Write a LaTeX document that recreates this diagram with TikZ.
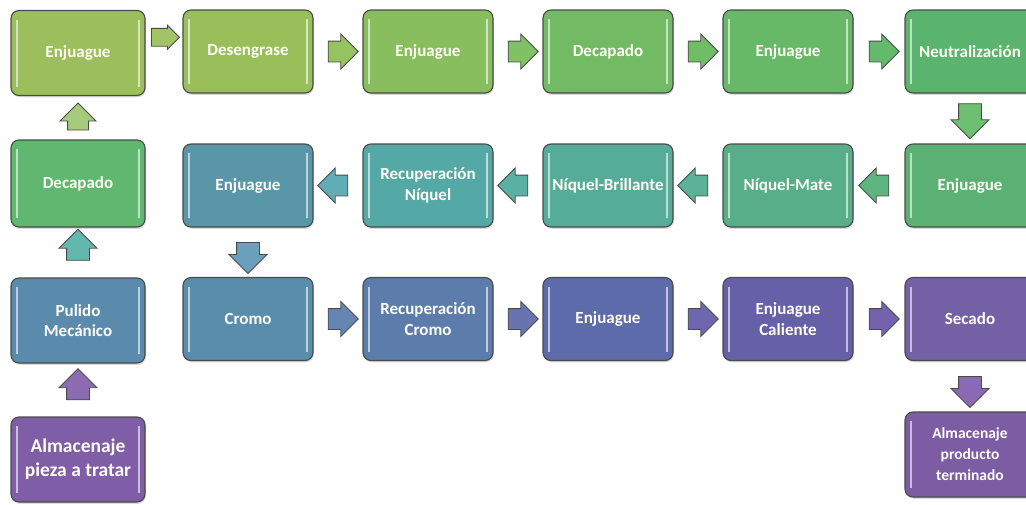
\documentclass[tikz,border=0pt]{standalone}
\usepackage{fontspec}
\setmainfont{Carlito}
\usetikzlibrary{shapes.arrows,calc,shadows}

\definecolor{borde}{HTML}{4A4A4A}
% cajas
\definecolor{cEnjA}{HTML}{9DBE5C}
\definecolor{cDeseng}{HTML}{98BF5A}
\definecolor{cEnjB}{HTML}{88BE5D}
\definecolor{cDecapB}{HTML}{72BA64}
\definecolor{cEnjC}{HTML}{67B968}
\definecolor{cNeutra}{HTML}{5BB46E}
\definecolor{cEnjD}{HTML}{5BB173}
\definecolor{cNMate}{HTML}{57AE88}
\definecolor{cNBrill}{HTML}{55AC98}
\definecolor{cRecNi}{HTML}{54A9A6}
\definecolor{cEnjE}{HTML}{5896A8}
\definecolor{cCromo}{HTML}{5A8CAB}
\definecolor{cRecCr}{HTML}{5C7DAC}
\definecolor{cEnjF}{HTML}{5E6BAA}
\definecolor{cEnjCal}{HTML}{6560A7}
\definecolor{cSecado}{HTML}{7460A5}
\definecolor{cAlmProd}{HTML}{7C5CA3}
\definecolor{cDecapA}{HTML}{60B76F}
\definecolor{cPulido}{HTML}{5A8BAD}
\definecolor{cAlmPieza}{HTML}{7F5DA7}
% flechas
\definecolor{fA}{HTML}{A3C466}
\definecolor{fB}{HTML}{94C35F}
\definecolor{fC}{HTML}{7FC164}
\definecolor{fD}{HTML}{6FBE66}
\definecolor{fE}{HTML}{64BA6C}
\definecolor{fF}{HTML}{6FBF72}
\definecolor{fG}{HTML}{5FB57F}
\definecolor{fH}{HTML}{5CB296}
\definecolor{fI}{HTML}{5AB0A3}
\definecolor{fJ}{HTML}{62ADB5}
\definecolor{fK}{HTML}{6BA0BC}
\definecolor{fL}{HTML}{6585B3}
\definecolor{fM}{HTML}{6874B0}
\definecolor{fN}{HTML}{6E67AE}
\definecolor{fO}{HTML}{7562AE}
\definecolor{fP}{HTML}{8A6AB3}
\definecolor{fQ}{HTML}{8B6CB0}
\definecolor{fR}{HTML}{62B8AC}
\definecolor{fS}{HTML}{A5CC7C}

\begin{document}
\begin{tikzpicture}[x=1pt,y=-1pt,
	paso/.style={draw=borde,line width=1.1pt,rounded corners=8pt,fill=#1,text=white!96!yellow,
		minimum width=130pt,minimum height=83pt,inner sep=2pt,align=center,
		font=\fontsize{17}{20.5}\selectfont\bfseries,
		drop shadow={shadow xshift=0.8pt,shadow yshift=-1.8pt,opacity=0.3},
		path picture={\draw[white,opacity=0.6,line width=1.6pt]
			([xshift=6pt,yshift=-9pt]path picture bounding box.north west) -- ([xshift=6pt,yshift=9pt]path picture bounding box.south west)
			([xshift=-6pt,yshift=-9pt]path picture bounding box.north east) -- ([xshift=-6pt,yshift=9pt]path picture bounding box.south east);}},
	izq/.style={minimum width=134pt,minimum height=85pt},
	flecha/.style={single arrow,draw=borde,line width=0.9pt,fill=#1,
		minimum height=30pt,inner xsep=0pt,inner ysep=10pt,single arrow head extend=7pt},
	vflecha/.style={flecha=#1,minimum height=31pt,inner ysep=11pt,single arrow head extend=7.5pt}]

	\useasboundingbox (0,0) rectangle (1026,504);

	% columna izquierda
	\node[paso=cEnjA,izq] (enjA) at (78,53) {Enjuague};
	\node[paso=cDecapA,izq,minimum height=87pt] (decapA) at (78,183.5) {Decapado};
	\node[paso=cPulido,izq] (pulido) at (78,320.5) {Pulido\\Mecánico};
	\node[paso=cAlmPieza,izq,font=\fontsize{19.5}{24}\selectfont\bfseries] (almpieza) at (78,459.5) {Almacenaje\\pieza a tratar};

	% fila 1
	\node[paso=cDeseng] (deseng) at (248,51.5) {Desengrase};
	\node[paso=cEnjB] (enjB) at (428,51.5) {Enjuague};
	\node[paso=cDecapB] (decapB) at (608,51.5) {Decapado};
	\node[paso=cEnjC] (enjC) at (788,51.5) {Enjuague};
	\node[paso=cNeutra] (neutra) at (970,51.5) {Neutralización};

	% fila 2
	\node[paso=cEnjD] (enjD) at (970,185.5) {Enjuague};
	\node[paso=cNMate] (nmate) at (788,185.5) {Níquel-Mate};
	\node[paso=cNBrill] (nbrill) at (608,185.5) {Níquel-Brillante};
	\node[paso=cRecNi] (recni) at (428,185.5) {Recuperación\\Níquel};
	\node[paso=cEnjE] (enjE) at (248,185.5) {Enjuague};

	% fila 3
	\node[paso=cCromo] (cromo) at (248,319) {Cromo};
	\node[paso=cRecCr] (reccr) at (428,319) {Recuperación\\Cromo};
	\node[paso=cEnjF] (enjF) at (608,319) {Enjuague};
	\node[paso=cEnjCal] (enjcal) at (788,319) {Enjuague\\Caliente};
	\node[paso=cSecado] (secado) at (970,319) {Secado};
	\node[paso=cAlmProd,minimum height=85pt,font=\fontsize{15.5}{21}\selectfont\bfseries] (almprod) at (970,454.5) {Almacenaje\\producto\\terminado};

	% flechas
	\node[vflecha=fQ,rotate=90] at ($(almpieza.north)!0.5!(pulido.south)$) {};
	\node[vflecha=fR,rotate=90] at ($(pulido.south)!0.5!(decapA.north)+(0,-1)$) {};
	\node[vflecha=fS,rotate=90,minimum height=27pt,inner ysep=10pt] at ($(decapA.north)!0.5!(enjA.south)+(0,4)$) {};
	\node[flecha=fA,minimum height=28pt,inner ysep=8.5pt,single arrow head extend=3pt] at ($(enjA.east)!0.5!(deseng.west)+(-3,-15)$) {};
	\node[flecha=fB] at ($(deseng.east)!0.5!(enjB.west)$) {};
	\node[flecha=fC] at ($(enjB.east)!0.5!(decapB.west)$) {};
	\node[flecha=fD] at ($(decapB.east)!0.5!(enjC.west)$) {};
	\node[flecha=fE] at ($(enjC.east)!0.5!(neutra.west)$) {};
	\node[vflecha=fF,rotate=-90,minimum height=35pt] at ($(neutra.south)!0.5!(enjD.north)+(0,-3)$) {};
	\node[flecha=fG,rotate=180] at ($(enjD.west)!0.5!(nmate.east)$) {};
	\node[flecha=fH,rotate=180] at ($(nmate.west)!0.5!(nbrill.east)$) {};
	\node[flecha=fI,rotate=180] at ($(nbrill.west)!0.5!(recni.east)$) {};
	\node[flecha=fJ,rotate=180] at ($(recni.west)!0.5!(enjE.east)$) {};
	\node[vflecha=fK,rotate=-90] at ($(enjE.south)!0.5!(cromo.north)$) {};
	\node[flecha=fL] at ($(cromo.east)!0.5!(reccr.west)$) {};
	\node[flecha=fM] at ($(reccr.east)!0.5!(enjF.west)$) {};
	\node[flecha=fN] at ($(enjF.east)!0.5!(enjcal.west)$) {};
	\node[flecha=fO] at ($(enjcal.east)!0.5!(secado.west)$) {};
	\node[vflecha=fP,rotate=-90] at ($(secado.south)!0.5!(almprod.north)$) {};
\end{tikzpicture}
\end{document}
